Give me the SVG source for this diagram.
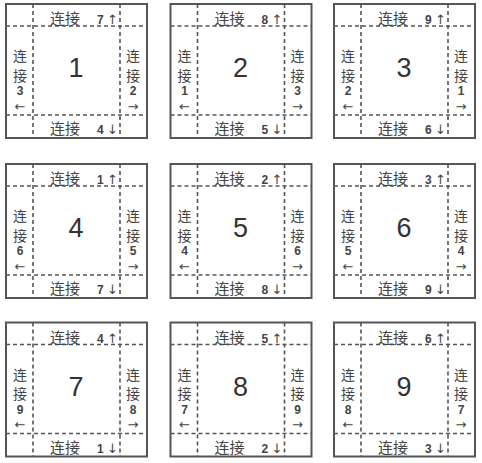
<svg xmlns="http://www.w3.org/2000/svg" width="482" height="463" viewBox="0 0 482 463">
<style>
.box{fill:#fff;stroke:#555;stroke-width:2}
.dash{fill:none;stroke:#555;stroke-width:1.6;stroke-dasharray:4 3}
.cn{font-family:"Noto Sans CJK SC","Noto Sans",sans-serif;font-size:15px;fill:#444}
.cv{font-family:"Noto Sans CJK SC","Noto Sans",sans-serif;font-size:14px;fill:#444}
.d{font-family:"Liberation Sans",Arial,sans-serif;font-size:12px;font-weight:bold;fill:#444}
.ar{font-family:"DejaVu Sans",sans-serif;font-size:13px;fill:#444}
.big{font-family:"Liberation Sans",Arial,sans-serif;font-size:27px;fill:#333;text-anchor:middle}
.m{text-anchor:middle}
</style>
<rect width="482" height="463" fill="#fff"/>
<g id="connectors"/>
<g id="n1" transform="translate(6,4)">
<rect class="box" width="141" height="134"/>
<path class="dash" d="M27 0V134M114 0V134M0 22H141M0 111H141"/>
<text x="70" y="73" class="big">1</text>
<text y="20"><tspan x="44" class="cn">连接</tspan><tspan x="91" class="d">7</tspan><tspan x="101" class="ar">↑</tspan></text>
<text y="130"><tspan x="44" class="cn">连接</tspan><tspan x="91" class="d">4</tspan><tspan x="101" class="ar">↓</tspan></text>
<g class="m"><text x="14" y="57" class="cv">连</text><text x="14" y="76.5" class="cv">接</text><text x="14" y="91" class="d">3</text><text x="14" y="106.5" class="ar">←</text></g>
<g class="m"><text x="127" y="57" class="cv">连</text><text x="127" y="76.5" class="cv">接</text><text x="127" y="91" class="d">2</text><text x="127" y="106.5" class="ar">→</text></g>
</g>
<g id="n2" transform="translate(170.5,4)">
<rect class="box" width="141" height="134"/>
<path class="dash" d="M27 0V134M114 0V134M0 22H141M0 111H141"/>
<text x="70" y="73" class="big">2</text>
<text y="20"><tspan x="44" class="cn">连接</tspan><tspan x="91" class="d">8</tspan><tspan x="101" class="ar">↑</tspan></text>
<text y="130"><tspan x="44" class="cn">连接</tspan><tspan x="91" class="d">5</tspan><tspan x="101" class="ar">↓</tspan></text>
<g class="m"><text x="14" y="57" class="cv">连</text><text x="14" y="76.5" class="cv">接</text><text x="14" y="91" class="d">1</text><text x="14" y="106.5" class="ar">←</text></g>
<g class="m"><text x="127" y="57" class="cv">连</text><text x="127" y="76.5" class="cv">接</text><text x="127" y="91" class="d">3</text><text x="127" y="106.5" class="ar">→</text></g>
</g>
<g id="n3" transform="translate(334,4)">
<rect class="box" width="141" height="134"/>
<path class="dash" d="M27 0V134M114 0V134M0 22H141M0 111H141"/>
<text x="70" y="73" class="big">3</text>
<text y="20"><tspan x="44" class="cn">连接</tspan><tspan x="91" class="d">9</tspan><tspan x="101" class="ar">↑</tspan></text>
<text y="130"><tspan x="44" class="cn">连接</tspan><tspan x="91" class="d">6</tspan><tspan x="101" class="ar">↓</tspan></text>
<g class="m"><text x="14" y="57" class="cv">连</text><text x="14" y="76.5" class="cv">接</text><text x="14" y="91" class="d">2</text><text x="14" y="106.5" class="ar">←</text></g>
<g class="m"><text x="127" y="57" class="cv">连</text><text x="127" y="76.5" class="cv">接</text><text x="127" y="91" class="d">1</text><text x="127" y="106.5" class="ar">→</text></g>
</g>
<g id="n4" transform="translate(6,164)">
<rect class="box" width="141" height="134"/>
<path class="dash" d="M27 0V134M114 0V134M0 22H141M0 111H141"/>
<text x="70" y="73" class="big">4</text>
<text y="20"><tspan x="44" class="cn">连接</tspan><tspan x="91" class="d">1</tspan><tspan x="101" class="ar">↑</tspan></text>
<text y="130"><tspan x="44" class="cn">连接</tspan><tspan x="91" class="d">7</tspan><tspan x="101" class="ar">↓</tspan></text>
<g class="m"><text x="14" y="57" class="cv">连</text><text x="14" y="76.5" class="cv">接</text><text x="14" y="91" class="d">6</text><text x="14" y="106.5" class="ar">←</text></g>
<g class="m"><text x="127" y="57" class="cv">连</text><text x="127" y="76.5" class="cv">接</text><text x="127" y="91" class="d">5</text><text x="127" y="106.5" class="ar">→</text></g>
</g>
<g id="n5" transform="translate(170.5,164)">
<rect class="box" width="141" height="134"/>
<path class="dash" d="M27 0V134M114 0V134M0 22H141M0 111H141"/>
<text x="70" y="73" class="big">5</text>
<text y="20"><tspan x="44" class="cn">连接</tspan><tspan x="91" class="d">2</tspan><tspan x="101" class="ar">↑</tspan></text>
<text y="130"><tspan x="44" class="cn">连接</tspan><tspan x="91" class="d">8</tspan><tspan x="101" class="ar">↓</tspan></text>
<g class="m"><text x="14" y="57" class="cv">连</text><text x="14" y="76.5" class="cv">接</text><text x="14" y="91" class="d">4</text><text x="14" y="106.5" class="ar">←</text></g>
<g class="m"><text x="127" y="57" class="cv">连</text><text x="127" y="76.5" class="cv">接</text><text x="127" y="91" class="d">6</text><text x="127" y="106.5" class="ar">→</text></g>
</g>
<g id="n6" transform="translate(334,164)">
<rect class="box" width="141" height="134"/>
<path class="dash" d="M27 0V134M114 0V134M0 22H141M0 111H141"/>
<text x="70" y="73" class="big">6</text>
<text y="20"><tspan x="44" class="cn">连接</tspan><tspan x="91" class="d">3</tspan><tspan x="101" class="ar">↑</tspan></text>
<text y="130"><tspan x="44" class="cn">连接</tspan><tspan x="91" class="d">9</tspan><tspan x="101" class="ar">↓</tspan></text>
<g class="m"><text x="14" y="57" class="cv">连</text><text x="14" y="76.5" class="cv">接</text><text x="14" y="91" class="d">5</text><text x="14" y="106.5" class="ar">←</text></g>
<g class="m"><text x="127" y="57" class="cv">连</text><text x="127" y="76.5" class="cv">接</text><text x="127" y="91" class="d">4</text><text x="127" y="106.5" class="ar">→</text></g>
</g>
<g id="n7" transform="translate(6,322.5)">
<rect class="box" width="141" height="134"/>
<path class="dash" d="M27 0V134M114 0V134M0 22H141M0 111H141"/>
<text x="70" y="73" class="big">7</text>
<text y="20"><tspan x="44" class="cn">连接</tspan><tspan x="91" class="d">4</tspan><tspan x="101" class="ar">↑</tspan></text>
<text y="130"><tspan x="44" class="cn">连接</tspan><tspan x="91" class="d">1</tspan><tspan x="101" class="ar">↓</tspan></text>
<g class="m"><text x="14" y="57" class="cv">连</text><text x="14" y="76.5" class="cv">接</text><text x="14" y="91" class="d">9</text><text x="14" y="106.5" class="ar">←</text></g>
<g class="m"><text x="127" y="57" class="cv">连</text><text x="127" y="76.5" class="cv">接</text><text x="127" y="91" class="d">8</text><text x="127" y="106.5" class="ar">→</text></g>
</g>
<g id="n8" transform="translate(170.5,322.5)">
<rect class="box" width="141" height="134"/>
<path class="dash" d="M27 0V134M114 0V134M0 22H141M0 111H141"/>
<text x="70" y="73" class="big">8</text>
<text y="20"><tspan x="44" class="cn">连接</tspan><tspan x="91" class="d">5</tspan><tspan x="101" class="ar">↑</tspan></text>
<text y="130"><tspan x="44" class="cn">连接</tspan><tspan x="91" class="d">2</tspan><tspan x="101" class="ar">↓</tspan></text>
<g class="m"><text x="14" y="57" class="cv">连</text><text x="14" y="76.5" class="cv">接</text><text x="14" y="91" class="d">7</text><text x="14" y="106.5" class="ar">←</text></g>
<g class="m"><text x="127" y="57" class="cv">连</text><text x="127" y="76.5" class="cv">接</text><text x="127" y="91" class="d">9</text><text x="127" y="106.5" class="ar">→</text></g>
</g>
<g id="n9" transform="translate(334,322.5)">
<rect class="box" width="141" height="134"/>
<path class="dash" d="M27 0V134M114 0V134M0 22H141M0 111H141"/>
<text x="70" y="73" class="big">9</text>
<text y="20"><tspan x="44" class="cn">连接</tspan><tspan x="91" class="d">6</tspan><tspan x="101" class="ar">↑</tspan></text>
<text y="130"><tspan x="44" class="cn">连接</tspan><tspan x="91" class="d">3</tspan><tspan x="101" class="ar">↓</tspan></text>
<g class="m"><text x="14" y="57" class="cv">连</text><text x="14" y="76.5" class="cv">接</text><text x="14" y="91" class="d">8</text><text x="14" y="106.5" class="ar">←</text></g>
<g class="m"><text x="127" y="57" class="cv">连</text><text x="127" y="76.5" class="cv">接</text><text x="127" y="91" class="d">7</text><text x="127" y="106.5" class="ar">→</text></g>
</g>
</svg>
